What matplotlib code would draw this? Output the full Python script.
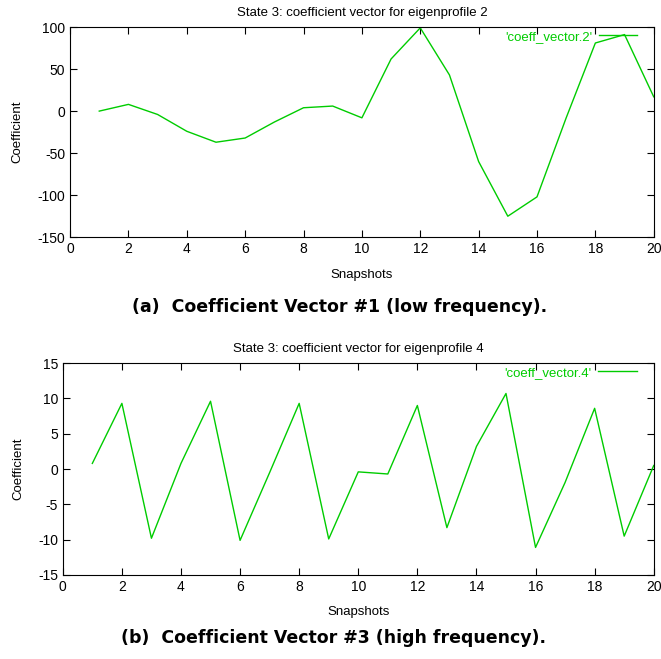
import matplotlib
matplotlib.use("Agg")
import matplotlib.pyplot as plt

# snapshots and coefficient values
snapshots = list(range(1, 21))
coeff2 = [0, 8, -4, -24, -37, -32, -13, 4, 6, -8, 62, 99, 43, -60, -125, -102, -8, 81, 91, 17]
coeff4 = [0.8, 9.3, -9.8, 0.8, 9.6, -10.1, -0.5, 9.3, -9.9, -0.4, -0.7, 9.0, -8.3, 3.2, 10.7, -11.1, -1.9, 8.6, -9.5, 0.5]

green = "#00cc00"
plt.rcParams["axes.unicode_minus"] = False
plt.rcParams["font.family"] = ["Liberation Sans", "DejaVu Sans"]

fig = plt.figure(figsize=(6.61, 6.59), dpi=100)

def panel(rect, y, label, title, ylim, yticks, caption, cap_x, cap_y):
    ax = fig.add_axes(rect)
    ax.plot(snapshots, y, color=green, lw=1, label=label)
    ax.set_xlim(0, 20)
    ax.set_ylim(*ylim)
    ax.set_xticks(range(0, 21, 2))
    ax.set_yticks(yticks)
    ax.tick_params(direction="in", top=True, right=True, labelsize=10, length=5)
    ax.set_title(title, fontsize=9.5, pad=8)
    ax.set_xlabel("Snapshots", fontsize=9.5, labelpad=9)
    ax.set_ylabel("Coefficient", fontsize=9.5, labelpad=10)
    ax.legend(loc="center right", bbox_to_anchor=(0.971, 0.955), frameon=False,
              markerfirst=False, fontsize=9.5, labelcolor=green, handlelength=2.9,
              handletextpad=0.5, borderpad=0, borderaxespad=0)
    fig.text(cap_x, cap_y, caption, ha="center", fontsize=12.5, fontweight="bold",
             family="DejaVu Sans")
    return ax

panel([0.106, 0.640, 0.883, 0.319], coeff2, "'coeff_vector.2'",
      "State 3: coefficient vector for eigenprofile 2", (-150, 100),
      range(-150, 101, 50), "(a)  Coefficient Vector #1 (low frequency).", 0.513, 0.527)
panel([0.095, 0.1275, 0.894, 0.3215], coeff4, "'coeff_vector.4'",
      "State 3: coefficient vector for eigenprofile 4", (-15, 15),
      range(-15, 16, 5), "(b)  Coefficient Vector #3 (high frequency).", 0.505, 0.025)

fig.savefig("out.png", dpi=100)
